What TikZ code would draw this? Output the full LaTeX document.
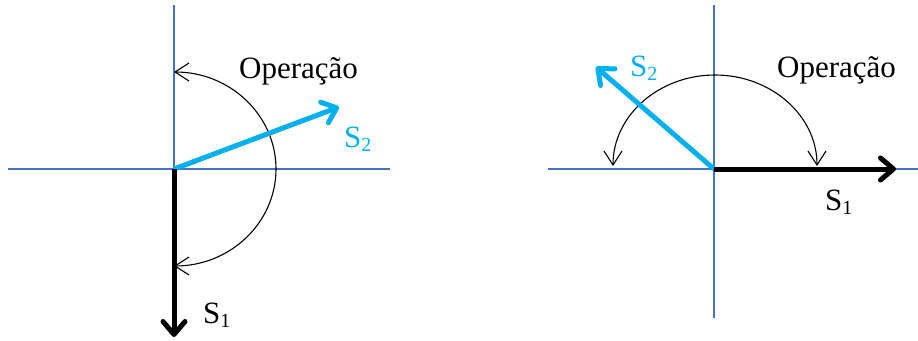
\documentclass[tikz,border=0pt]{standalone}
\usepackage{fontspec}
\setmainfont{Liberation Serif}
\usetikzlibrary{arrows.meta}
\definecolor{axisblue}{HTML}{4472C4}
\definecolor{vcyan}{HTML}{00B0F0}
\newcommand\mysub[1]{\raisebox{-4pt}{\fontsize{20}{20}\selectfont #1}}
\tikzset{
  axisline/.style={axisblue, line width=1.1pt},
  vecarrow/.style={line width=5pt, line cap=butt, -{Straight Barb[round,length=13pt,width=22pt]}},
  oparc/.style={black, line width=1.1pt, {Straight Barb[length=14pt,width=18pt]}-{Straight Barb[length=14pt,width=18pt]}},
  lbl/.style={anchor=base west, inner sep=0pt, font=\fontsize{31}{36}\selectfont}
}
\begin{document}
\begin{tikzpicture}[x=1pt,y=-1pt]
\useasboundingbox (0,0) rectangle (918,340);
% ---------- left diagram ----------
\coordinate (O1) at (174,169);
\coordinate (H1a) at (8,169);
\coordinate (H1b) at (390,169);
\coordinate (V1a) at (174,5);
\coordinate (S1L) at (174,337);
\coordinate (S2L) at (339,107);
\coordinate (A1) at (174,72);
\draw[axisline] (H1a) -- (H1b);
\draw[axisline] (V1a) -- (O1);
\draw[oparc] (A1) arc[start angle=90,end angle=-90,x radius=102pt,y radius=97pt];
\draw[vecarrow, vcyan] (O1) -- (S2L);
\draw[vecarrow, black] (O1) -- (S1L);
\node[lbl] (opL) at (239,78) {Operação};
\node[lbl, text=vcyan] (s2L) at (344,147) {S\mysub{2}};
\node[lbl] (s1L) at (203,323) {S\mysub{1}};
% ---------- right diagram ----------
\coordinate (O2) at (714,169);
\coordinate (H2a) at (548,169);
\coordinate (H2b) at (918,169);
\coordinate (V2a) at (714,5);
\coordinate (V2b) at (714,318);
\coordinate (S1R) at (896,169);
\coordinate (S2R) at (596,67);
\coordinate (A2) at (817,166);
\draw[axisline] (H2a) -- (H2b);
\draw[axisline] (V2a) -- (V2b);
\draw[oparc] (A2) arc[start angle=0,end angle=180,x radius=102pt,y radius=91pt];
\draw[vecarrow, vcyan] (O2) -- (S2R);
\draw[vecarrow, black] (O2) -- (S1R);
\node[lbl] (opR) at (777,77) {Operação};
\node[lbl, text=vcyan] (s2R) at (630,76) {S\mysub{2}};
\node[lbl] (s1R) at (825,210) {S\mysub{1}};
\end{tikzpicture}
\end{document}
